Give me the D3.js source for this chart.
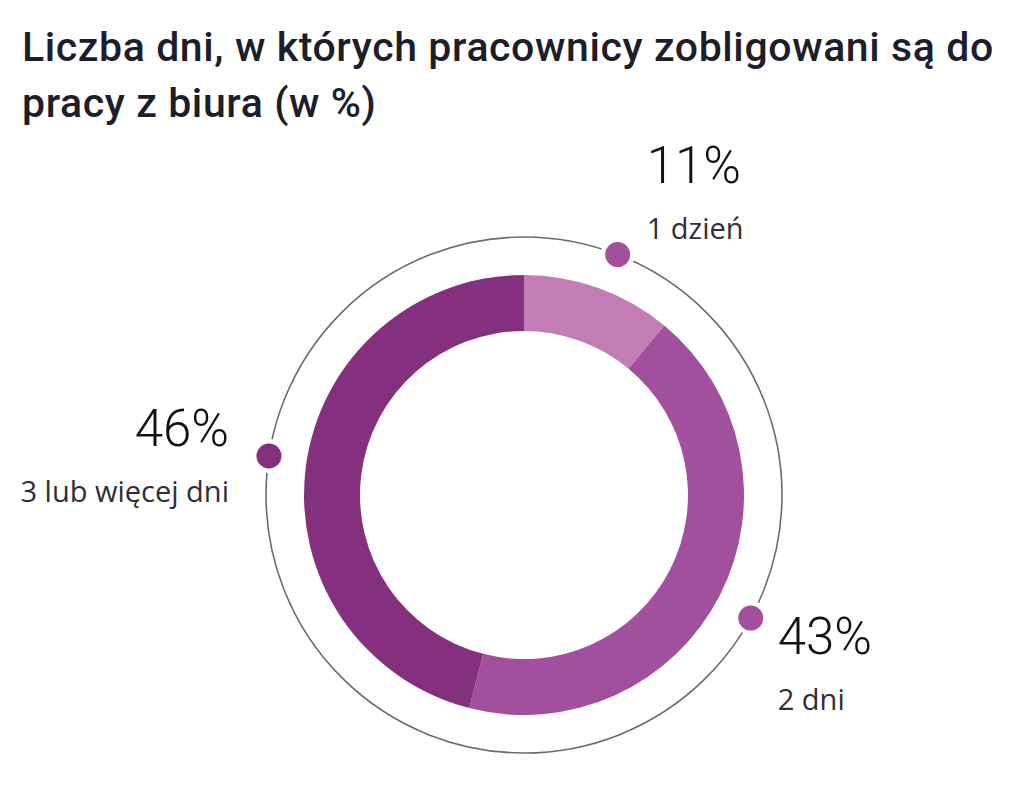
<!DOCTYPE html>
<html>
<head>
<meta charset="utf-8">
<script src="https://cdn.jsdelivr.net/npm/d3@7"></script>
<style>
  body { margin: 0; background: #fff; }
  svg { display: block; }
</style>
</head>
<body>
<svg id="chart" width="1024" height="794"></svg>
<script>
// data
const categories = ["1 dzień", "2 dni", "3 lub więcej dni"];
const values = [11, 43, 46];
const colors = ["#c27db4", "#a2509e", "#85307e"];
const dotColors = ["#a2509e", "#a2509e", "#85307e"];
const titleLines = ["Liczba dni, w których pracownicy zobligowani są do", "pracy z biura (w %)"];

let svg = d3.select("#chart");

// title
svg.append("g")
  .selectAll("text")
  .data(titleLines)
  .enter()
  .append("text")
  .attr("x", 22)
  .attr("y", (d, i) => 61 + i * 56)
  .attr("font-family", "Roboto")
  .attr("font-weight", 500)
  .attr("font-size", 41)
  .attr("letter-spacing", 0.6)
  .attr("fill", "#1d1d2b")
  .text(d => d);

let cx = 524, cy = 495;
let outerR = 220, innerR = 164, ringR = 258;

let g = svg.append("g").attr("transform", `translate(${cx},${cy})`);

// thin outer circle
g.append("circle")
  .attr("r", ringR)
  .attr("fill", "none")
  .attr("stroke", "#6b6b78")
  .attr("stroke-width", 1.6);

let pie = d3.pie().sort(null).value(d => d);
let arcs = pie(values);

let arc = d3.arc().innerRadius(innerR).outerRadius(outerR);

g.selectAll("path.slice")
  .data(arcs)
  .enter()
  .append("path")
  .attr("class", "slice")
  .attr("d", arc)
  .attr("fill", (d, i) => colors[i]);

// dots on the thin circle, a little past the slice middle
function midPos(d) {
  let a = (d.startAngle + d.endAngle) / 2 + 0.026;
  return [ringR * Math.sin(a), -ringR * Math.cos(a)];
}

let dots = g.selectAll("g.dot")
  .data(arcs)
  .enter()
  .append("g")
  .attr("class", "dot")
  .attr("transform", d => `translate(${midPos(d)})`);

dots.append("circle").attr("r", 17).attr("fill", "#fff");
dots.append("circle")
  .attr("r", 12.5)
  .attr("fill", (d, i) => dotColors[i]);

// labels: offset from dot
let labelOffsets = [
  { dx: 29, dy: -72, anchor: "start" },
  { dx: 27, dy: 36, anchor: "start" },
  { dx: -40, dy: -10, anchor: "end" }
];

let labels = g.selectAll("g.label")
  .data(arcs)
  .enter()
  .append("g")
  .attr("class", "label")
  .attr("transform", (d, i) => {
    let p = midPos(d);
    return `translate(${p[0] + labelOffsets[i].dx},${p[1] + labelOffsets[i].dy})`;
  });

labels.append("text")
  .attr("text-anchor", (d, i) => labelOffsets[i].anchor)
  .attr("font-family", "Roboto")
  .attr("font-weight", 300)
  .attr("font-size", 51)
  .attr("fill", "#111")
  .text(d => d.data + "%");

labels.append("text")
  .attr("y", 56)
  .attr("text-anchor", (d, i) => labelOffsets[i].anchor)
  .attr("font-family", "Open Sans")
  .attr("font-size", 29)
  .attr("fill", "#2e2e38")
  .text((d, i) => categories[i]);
</script>
</body>
</html>
